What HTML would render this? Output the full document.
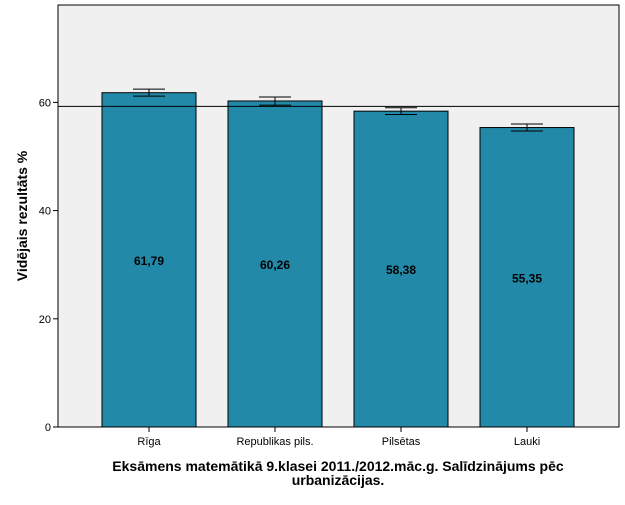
<!DOCTYPE html>
<html><head><meta charset="utf-8"><style>
body{margin:0;background:#fff;font-family:"Liberation Sans",sans-serif;}
</style></head><body>
<svg width="625" height="500" id="c" xmlns="http://www.w3.org/2000/svg"></svg>
<script>
const categories=["Rīga","Republikas pils.","Pilsētas","Lauki"];
const means=[61.79,60.26,58.38,55.35];
const labels=["61,79","60,26","58,38","55,35"];
const errLow=[61.15,59.5,57.75,54.7];
const errHigh=[62.45,61.0,59.0,56.0];
const refValue=59.27;
const yTicks=[0,20,40,60];
const yMax=78;
const L=58,R=619,T=5,B=427;
const ns="http://www.w3.org/2000/svg";
const svg=document.getElementById('c');
const y=v=>B-(v/yMax)*(B-T);
const step=126, first=149;
const x=i=>first+i*step;
const bw=94;
function mk(t,a,p){const e=document.createElementNS(ns,t);for(const k in a)e.setAttribute(k,a[k]);(p||svg).appendChild(e);return e;}
const bg=mk('rect',{x:L,y:T,width:R-L,height:B-T,fill:'#f0f0f0',stroke:'#000','stroke-width':1});


categories.forEach((c,i)=>{
  const b=mk('rect',{x:x(i)-bw/2,y:y(means[i]),width:bw,height:B-y(means[i]),fill:'#2389a8',stroke:'#000','stroke-width':1});
  
  
  const g=mk('g',{stroke:'#000','stroke-width':1});
  
  
  mk('line',{x1:x(i),x2:x(i),y1:y(errLow[i]),y2:y(errHigh[i])},g);
  mk('line',{x1:x(i)-16,x2:x(i)+16,y1:y(errLow[i]),y2:y(errLow[i])},g);
  mk('line',{x1:x(i)-16,x2:x(i)+16,y1:y(errHigh[i]),y2:y(errHigh[i])},g);
  const t=mk('text',{x:x(i),y:(y(means[i])+B)/2+5,'text-anchor':'middle','font-size':12,'font-weight':'bold',fill:'#000'});
  t.textContent=labels[i];
  
  
  mk('line',{x1:x(i),x2:x(i),y1:B,y2:B+5,stroke:'#000'});
  const ct=mk('text',{x:x(i),y:B+18,'text-anchor':'middle','font-size':11,fill:'#000'});
  ct.textContent=c;
  
  
});
const rl=mk('line',{x1:L,x2:R,y1:y(refValue),y2:y(refValue),stroke:'#000','stroke-width':1});


yTicks.forEach(v=>{
  mk('line',{x1:L-5,x2:L,y1:y(v),y2:y(v),stroke:'#000'});
  const t=mk('text',{x:L-7,y:y(v)+4,'text-anchor':'end','font-size':11,fill:'#000'});
  t.textContent=v;
  
  
});
const yt=mk('text',{x:0,y:0,transform:'translate(27,216) rotate(-90)','text-anchor':'middle','font-size':14,'font-weight':'bold',fill:'#000'});
yt.textContent='Vidējais rezultāts %';


const x1=mk('text',{x:338,y:471,'text-anchor':'middle','font-size':14,'font-weight':'bold',fill:'#000'});
x1.textContent='Eksāmens matemātikā 9.klasei 2011./2012.māc.g. Salīdzinājums pēc';


const x2=mk('text',{x:338,y:485,'text-anchor':'middle','font-size':14,'font-weight':'bold',fill:'#000'});
x2.textContent='urbanizācijas.';


</script>
</body></html>
